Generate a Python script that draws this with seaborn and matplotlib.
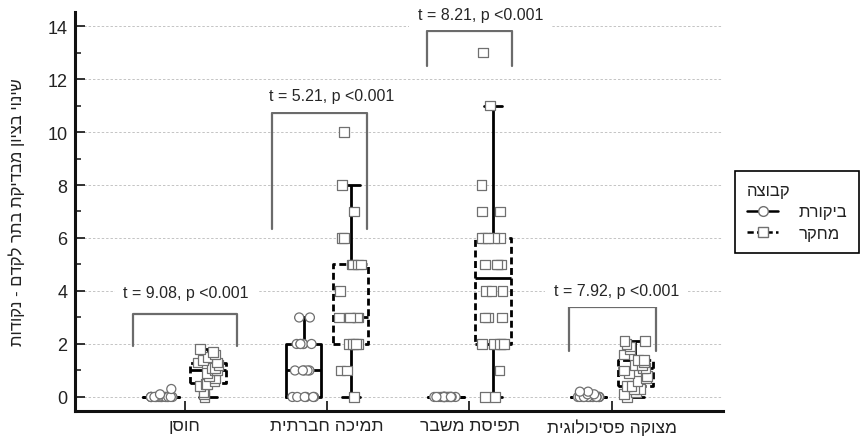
import numpy as np
import pandas as pd
import matplotlib
matplotlib.use("Agg")
import matplotlib.pyplot as plt
from matplotlib.lines import Line2D
from matplotlib.ticker import MultipleLocator
import seaborn as sns


def rtl(s):
    # Hebrew is kept in logical order; matplotlib lays glyphs out left to right.
    return s[::-1]


categories = ["חוסן", "תמיכה חברתית", "תפיסת משבר", "מצוקה פסיכולוגית"]
groups = ["ביקורת", "מחקר"]

control_hosen = [0.0] * 17 + [0.1, 0.3]
study_hosen = [0.0, 0.1, 0.2, 0.4, 0.5, 0.5, 0.6, 0.7, 0.8, 0.9, 1.0,
               1.0, 1.1, 1.1, 1.2, 1.3, 1.3, 1.4, 1.5, 1.6, 1.7, 1.8]

control_support = [0] * 6 + [1] * 5 + [2] * 6 + [3] * 2
study_support = [0, 1, 1, 2, 2, 2, 2, 3, 3, 3, 3, 3, 4, 5, 5, 5, 5,
                 6, 6, 7, 8, 10]

control_crisis = [0] * 20
study_crisis = [0, 0, 1, 2, 2, 2, 2, 2, 3, 3, 3, 4, 4, 4, 5, 5, 5, 5,
                6, 6, 6, 6, 6, 7, 7, 8, 11, 13]

control_distress = [0.0] * 15 + [0.1, 0.1, 0.2, 0.2]
study_distress = [0.0, 0.1, 0.2, 0.3, 0.3, 0.4, 0.4, 0.6, 0.7, 0.8, 0.9,
                  1.0, 1.1, 1.1, 1.2, 1.2, 1.3, 1.4, 1.4, 1.6, 1.8, 1.9,
                  2.0, 2.1, 2.1]

t_values = ["9.08", "5.21", "8.21", "7.92"]
p_label = "<0.001"

y_title = "שינוי בציון מבדיקת בתר לקדם - נקודות"
legend_title = "קבוצה"

control_values = [control_hosen, control_support, control_crisis, control_distress]
study_values = [study_hosen, study_support, study_crisis, study_distress]

rows = []
for cat, ctrl, study in zip(categories, control_values, study_values):
    rows += [(cat, groups[0], v) for v in ctrl]
    rows += [(cat, groups[1], v) for v in study]
df = pd.DataFrame(rows, columns=["measure", "group", "change"])

sns.set_style("ticks")
plt.rcParams["font.family"] = ["Liberation Sans", "DejaVu Sans"]
plt.rcParams["text.color"] = "#222222"

fig = plt.figure(figsize=(8.61, 4.39), dpi=100)
ax = fig.add_axes([75 / 861, 1 - 412 / 439, (723 - 75) / 861, (412 - 13) / 439])

dash = (0, (2.5, 1.3))

box_common = dict(x="measure", y="change", hue="group", order=categories,
                  hue_order=groups, dodge=True, width=0.66, gap=0.24,
                  fill=False, palette={g: "black" for g in groups},
                  linewidth=2, showfliers=False, legend=False, ax=ax)
sns.boxplot(data=df[df.group == groups[0]], **box_common)
sns.boxplot(data=df[df.group == groups[1]], boxprops={"linestyle": dash},
            **box_common)

np.random.seed(7)
strip_common = dict(x="measure", y="change", hue="group", order=categories,
                    hue_order=groups, dodge=True, jitter=0.2,
                    palette={g: "white" for g in groups}, edgecolor="#707070",
                    linewidth=0.9, legend=False, ax=ax, zorder=4)
n_before = len(ax.collections)
sns.stripplot(data=df[df.group == groups[0]], marker="o", size=6.5, **strip_common)
sns.stripplot(data=df[df.group == groups[1]], marker="s", size=7, **strip_common)

# pull the strips in so they sit on the narrower dodged boxes
for coll in ax.collections[n_before:]:
    off = np.asarray(coll.get_offsets(), dtype=float).copy()
    centre = np.round(off[:, 0])
    off[:, 0] = centre + (off[:, 0] - centre) * 0.825
    coll.set_offsets(off)

# significance brackets
bracket_left = [-0.365, -0.39, -0.30, -0.30]
bracket_right = [0.365, 0.28, 0.30, 0.31]
bracket_top = [3.13, 10.7, 13.8, 3.4]
bracket_foot = [1.92, 6.34, 12.5, 1.74]
label_dx = [0.01, 0.03, 0.08, 0.03]
label_y = [3.96, 11.36, 14.45, 4.0]

for i, t in enumerate(t_values):
    xl, xr = i + bracket_left[i], i + bracket_right[i]
    ax.plot([xl, xl, xr, xr],
            [bracket_foot[i], bracket_top[i], bracket_top[i], bracket_foot[i]],
            color="#6b6b6b", lw=1.6, zorder=2, clip_on=False)
    ax.text(i + label_dx[i], label_y[i], f"t = {t}, p {p_label}",
            ha="center", va="center", fontsize=11.5, color="#262626",
            bbox=dict(boxstyle="square,pad=0.55", fc="white", ec="none"),
            zorder=3, clip_on=False)

ax.set_xlim(-0.77, 3.78)
ax.set_ylim(-0.53, 14.53)
ax.set_yticks(range(0, 15, 2))
ax.yaxis.set_minor_locator(MultipleLocator(1))
ax.set_xticks(range(len(categories)))
ax.set_xticklabels([rtl(c) for c in categories], fontsize=12.5)

ax.yaxis.grid(True, which="major", linestyle=(0, (2.5, 2)), color="#c4c4c4", linewidth=0.7)
ax.set_axisbelow(True)

ax.tick_params(axis="y", which="major", direction="in", length=7.5, width=1.3,
               labelsize=13, pad=5.5, colors="#222222")
ax.tick_params(axis="y", which="minor", direction="in", length=4, width=1.2)
ax.tick_params(axis="x", direction="in", length=7, width=1.3, pad=5, colors="#222222")

for side in ["top", "right"]:
    ax.spines[side].set_visible(False)
for side in ["left", "bottom"]:
    ax.spines[side].set_linewidth(2.2)
    ax.spines[side].set_color("#111111")

ax.set_xlabel("")
ax.set_ylabel(rtl(y_title), fontsize=12, labelpad=16, color="#222222")

handles = [
    Line2D([], [], color="black", lw=1.8, marker="o", markersize=7,
           markerfacecolor="white", markeredgecolor="#707070"),
    Line2D([], [], color="black", lw=1.8, ls=dash, marker="s", markersize=7,
           markerfacecolor="white", markeredgecolor="#707070"),
]
leg = fig.legend(handles, [rtl(g) for g in groups], title=rtl(legend_title),
                 loc="upper left", bbox_to_anchor=(735 / 861, 1 - 172 / 439),
                 bbox_transform=fig.transFigure, frameon=True, fancybox=False,
                 edgecolor="black", framealpha=1, fontsize=12,
                 title_fontsize=12, alignment="left", handlelength=1.9,
                 handletextpad=1.2, borderpad=0.7, labelspacing=0.4,
                 borderaxespad=0)
leg.get_frame().set_linewidth(1.2)

fig.savefig("out.png", dpi=100)
